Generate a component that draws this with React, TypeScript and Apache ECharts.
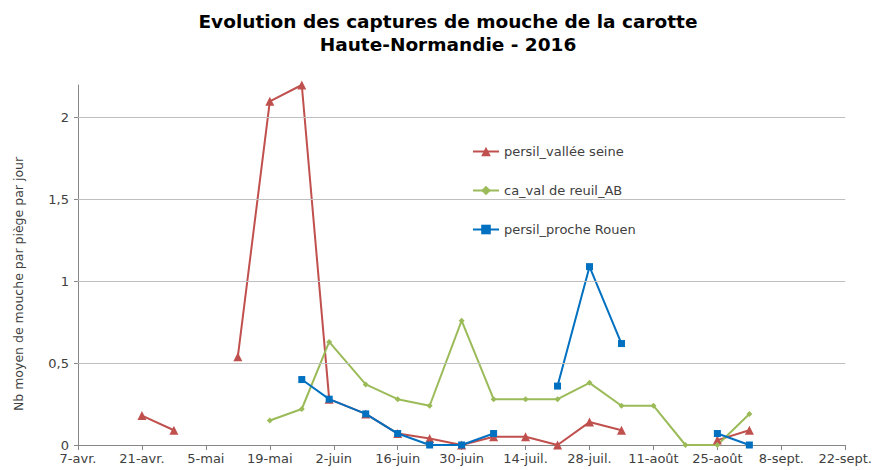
import React, { useEffect, useRef } from "react";
import * as echarts from "echarts";

const startDate = "2016-04-07";
const tickLabels = ["7-avr.", "21-avr.", "5-mai", "19-mai", "2-juin", "16-juin", "30-juin", "14-juil.", "28-juil.", "11-août", "25-août", "8-sept.", "22-sept."];
const sampleDates = [
  "2016-04-21", "2016-04-28", "2016-05-05", "2016-05-12", "2016-05-19", "2016-05-26",
  "2016-06-01", "2016-06-09", "2016-06-16", "2016-06-23", "2016-06-30", "2016-07-07",
  "2016-07-14", "2016-07-21", "2016-07-28", "2016-08-04", "2016-08-11", "2016-08-18",
  "2016-08-25", "2016-09-01",
];
const persilValleeSeine = [0.18, 0.09, null, 0.54, 2.1, 2.2, 0.28, 0.19, 0.07, 0.04, 0, 0.05, 0.05, 0, 0.14, 0.09, null, null, 0.03, 0.09];
const caValDeReuil = [null, null, null, null, 0.15, 0.22, 0.63, 0.37, 0.28, 0.24, 0.76, 0.28, 0.28, 0.28, 0.38, 0.24, 0.24, 0, 0, 0.19];
const persilProcheRouen = [null, null, null, null, null, 0.4, 0.28, 0.19, 0.07, 0, 0, 0.07, null, 0.36, 1.09, 0.62, null, null, 0.07, 0];
const yTicks = [0, 0.5, 1, 1.5, 2];
const seriesNames = ["persil_vallée seine", "ca_val de reuil_AB", "persil_proche Rouen"];

const dayOffset = (d: string) => {
  const [y, m, dd] = d.split("-").map(Number);
  const [sy, sm, sd] = startDate.split("-").map(Number);
  return Math.round((Date.UTC(y, m - 1, dd) - Date.UTC(sy, sm - 1, sd)) / 86400000);
};
const toData = (vals: (number | null)[]) =>
  vals.map((v, i) => [dayOffset(sampleDates[i]), v === null ? "-" : v]);

const FONT = "DejaVu Sans";

export default function App() {
  const ref = useRef<HTMLDivElement>(null);
  useEffect(() => {
    if (!ref.current) return;
    const chart = echarts.init(ref.current, null, { renderer: "svg" });
    chart.setOption({
      animation: false,
      backgroundColor: "#fff",
      title: {
        text: "Evolution des captures de mouche de la carotte\nHaute-Normandie - 2016",
        left: 443,
        top: 5,
        textAlign: "center",
        textStyle: { fontFamily: FONT, fontSize: 18.5, fontWeight: "bold", color: "#000", lineHeight: 23 },
      },
      legend: {
        data: seriesNames,
        orient: "vertical",
        left: 408,
        top: 125,
        itemWidth: 26,
        itemHeight: 12,
        itemGap: 26,
        backgroundColor: "#fff",
        padding: [20, 64, 25, 64],
        textStyle: { fontFamily: FONT, fontSize: 13, color: "#404040" },
      },
      grid: { left: 78, right: 27, top: 85, bottom: 25 },
      xAxis: {
        type: "value",
        min: 0,
        max: (tickLabels.length - 1) * 14,
        interval: 14,
        axisLine: { show: true, lineStyle: { color: "#868686" } },
        axisTick: { show: true, length: 5, lineStyle: { color: "#868686" } },
        splitLine: { show: false },
        axisLabel: {
          fontFamily: FONT,
          fontSize: 13,
          color: "#404040",
          margin: 7,
          formatter: (v: number) => tickLabels[Math.round(v / 14)] ?? "",
        },
      },
      yAxis: {
        type: "value",
        min: 0,
        max: 2.2,
        interval: 0.5,
        axisLine: { show: true, lineStyle: { color: "#868686" } },
        axisTick: { show: true, length: 4, customValues: yTicks, lineStyle: { color: "#868686" } },
        splitLine: { show: false },
        axisLabel: {
          fontFamily: FONT,
          fontSize: 13,
          color: "#404040",
          margin: 9,
          customValues: yTicks,
          formatter: (v: number) => (v > 2.05 ? "" : String(v).replace(".", ",")),
        },
      },
      graphic: [
        {
          type: "text",
          x: 18,
          y: 284,
          rotation: Math.PI / 2,
          style: {
            text: "Nb moyen de mouche par piège par jour",
            fontFamily: FONT,
            fontSize: 12.5,
            fill: "#404040",
            textAlign: "center",
            textVerticalAlign: "middle",
          },
        },
      ],
      series: [
        {
          name: "_grid",
          type: "line",
          data: [],
          z: 1,
          silent: true,
          markLine: {
            silent: true,
            symbol: ["none", "none"],
            label: { show: false },
            lineStyle: { color: "#BFBFBF", width: 1, type: "solid" },
            data: yTicks.filter((t) => t > 0).map((t) => ({ yAxis: t })),
          },
        },
        {
          name: seriesNames[0],
          type: "line",
          data: toData(persilValleeSeine),
          symbol: "triangle",
          symbolSize: 9,
          lineStyle: { color: "#C0504D", width: 2 },
          itemStyle: { color: "#C0504D" },
          z: 3,
        },
        {
          name: seriesNames[1],
          type: "line",
          data: toData(caValDeReuil),
          symbol: "diamond",
          symbolSize: 6,
          lineStyle: { color: "#9BBB59", width: 2 },
          itemStyle: { color: "#9BBB59" },
          z: 3,
        },
        {
          name: seriesNames[2],
          type: "line",
          data: toData(persilProcheRouen),
          symbol: "rect",
          symbolSize: 7,
          lineStyle: { color: "#0070C0", width: 2 },
          itemStyle: { color: "#0070C0" },
          z: 4,
        },
      ],
    });
    return () => chart.dispose();
  }, []);
  return <div ref={ref} style={{ width: 875, height: 470, position: "absolute", left: 0, top: 0 }} />;
}
